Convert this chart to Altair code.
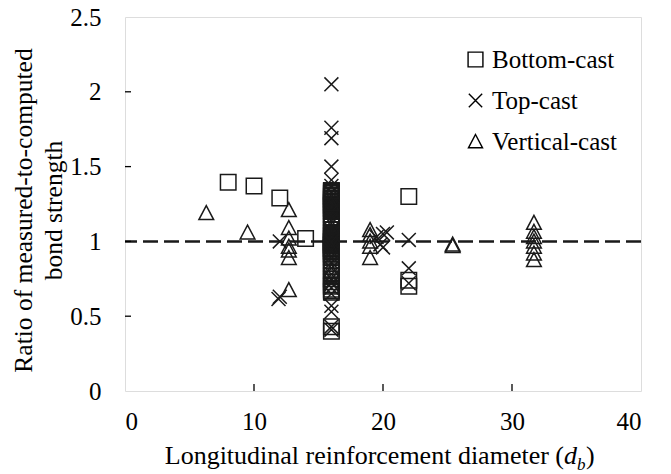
import altair as alt
import pandas as pd

FONT = "Liberation Serif, Times New Roman, serif"

# ---- data ----
sq_x = [8.0, 10.0, 12.0, 14.0, 22.0, 22.0, 22.0,
        16, 16, 16, 16, 16, 16, 16, 16, 16, 16, 16, 16, 16, 16, 16, 16, 16, 16,
        16, 16, 16, 16, 16, 16, 16, 16, 16, 16, 16, 16, 16, 16, 16, 16, 16,
        16, 16, 16, 16, 16, 16, 16, 16, 16, 16, 16, 16, 16, 16,
        16, 16, 16, 16, 16, 16, 16, 16, 16, 16, 16, 16]
sq_y = [1.395, 1.37, 1.29, 1.02, 1.30, 0.74, 0.70,
        1.34, 1.33, 1.32, 1.30, 1.29, 1.27, 1.25, 1.24, 1.22, 1.20, 1.18, 1.16, 1.14, 1.12,
        1.10, 1.08, 1.06, 1.05, 1.04, 1.03, 1.02, 1.01, 1.00, 0.99, 0.98, 0.97, 0.96, 0.95,
        0.94, 0.93, 0.92, 0.90, 0.89, 0.87, 0.85, 0.83, 0.81, 0.79, 0.77, 0.75, 0.73, 0.71,
        0.70, 0.68, 0.67, 0.66, 0.43, 0.40, 0.985,
        1.335, 1.31, 1.28, 1.26, 1.23, 1.21, 1.005, 0.995, 0.975, 0.955, 0.935, 0.915]

x_x = [12.0, 12.0, 11.9,
       16, 16, 16, 16, 16, 16, 16, 16, 16, 16, 16, 16, 16, 16, 16, 16, 16, 16, 16,
       16, 16, 16, 16, 16, 16, 16, 16, 16, 16, 16,
       19.5, 19.8, 20.0, 20.3, 20.0, 22.0, 22.0, 22.0]
x_y = [1.00, 0.63, 0.615,
       2.05, 1.76, 1.69, 1.50, 1.41, 1.37, 1.33, 1.30, 1.26, 1.23, 1.20, 1.16, 1.12, 1.07,
       1.03, 1.00, 0.97, 0.94, 0.90, 0.86, 0.82, 0.78, 0.75, 0.72, 0.69, 0.65, 0.57, 0.53,
       0.43, 0.41,
       1.03, 0.98, 1.05, 1.06, 0.96, 1.01, 0.82, 0.72]

tri_x = [6.3, 9.5, 12.7, 12.7, 12.7, 12.7, 12.7, 12.7, 12.7,
         16, 16, 16, 16, 16, 16,
         19.0, 19.0, 19.0, 19.0, 19.0, 25.4, 25.4,
         31.7, 31.7, 31.7, 31.7, 31.7, 31.7, 31.7]
tri_y = [1.19, 1.06, 1.21, 1.09, 1.02, 0.965, 0.94, 0.89, 0.675,
         1.33, 1.25, 1.10, 0.95, 0.80, 0.70,
         1.076, 1.043, 1.00, 0.965, 0.89, 0.98, 0.97,
         1.125, 1.065, 1.03, 1.00, 0.965, 0.92, 0.876]

series = ["Bottom-cast", "Top-cast", "Vertical-cast"]
x_ticks = [0, 10, 20, 30, 40]
y_ticks = [0, 0.5, 1, 1.5, 2, 2.5]
inner_x_ticks = [10, 20, 30]
inner_y_ticks = [0.5, 1, 1.5, 2]
ref_value = [1.0]

df = pd.concat([
    pd.DataFrame({"d": sq_x, "r": sq_y, "s": series[0]}),
    pd.DataFrame({"d": x_x, "r": x_y, "s": series[1]}),
    pd.DataFrame({"d": tri_x, "r": tri_y, "s": series[2]}),
], ignore_index=True)

W, H = 516, 374

xscale = alt.Scale(domain=[0, 40], nice=False, zero=False)
yscale = alt.Scale(domain=[0, 2.5], nice=False, zero=False)

X_PATH = "M-0.9,-0.9L0.9,0.9M-0.9,0.9L0.9,-0.9"
TRI_PATH = "M0,-0.95L0.95,0.85L-0.95,0.85Z"

points = alt.Chart(df).mark_point(filled=False, strokeWidth=1.5, color="#1a1a1a",
                                  opacity=1, size=240).encode(
    x=alt.X("d:Q", scale=xscale,
            axis=alt.Axis(values=x_ticks, ticks=False, domain=False, grid=False, title=None,
                          labelFont=FONT, labelFontSize=25, labelColor="black", labelPadding=18)),
    y=alt.Y("r:Q", scale=yscale,
            axis=alt.Axis(values=y_ticks, ticks=False, domain=False, grid=False, format="~g",
                          labelFont=FONT, labelFontSize=25, labelColor="black", labelPadding=24,
                          title=["Ratio of measured-to-computed", "bond strength"],
                          titleFont=FONT, titleFontSize=25.5, titleFontWeight="normal",
                          titleColor="black", titleLineHeight=30,
                          titleX=-89, titleY=193, titleAngle=270, titleBaseline="bottom",
                          titleAlign="center")),
    shape=alt.Shape("s:N", scale=alt.Scale(domain=series, range=["square", X_PATH, TRI_PATH]),
                    legend=alt.Legend(title=None, orient="none", legendX=338, legendY=30,
                                      labelFont=FONT, labelFontSize=25, labelColor="black",
                                      symbolSize=220, symbolStrokeColor="black",
                                      symbolStrokeWidth=1.4,
                                      rowPadding=15, labelOffset=4, padding=0)),
)

ref = alt.Chart(pd.DataFrame({"v": ref_value})).mark_rule(
    strokeDash=[15, 6], strokeWidth=2.5, color="#1a1a1a").encode(
    y=alt.Y("v:Q", scale=yscale))

ytk = alt.Chart(pd.DataFrame({"v": inner_y_ticks})).mark_rule(color="black", strokeWidth=1.3).encode(
    y=alt.Y("v:Q", scale=yscale), x=alt.value(0), x2=alt.value(6))

xtk = alt.Chart(pd.DataFrame({"v": inner_x_ticks})).mark_rule(color="black", strokeWidth=1.3).encode(
    x=alt.X("v:Q", scale=xscale), y=alt.value(H), y2=alt.value(H - 7))

X0 = 439
TY = 447
title_main = alt.Chart(pd.DataFrame({"t": ["Longitudinal reinforcement diameter ("]})).mark_text(
    font=FONT, fontSize=26, align="right", baseline="alphabetic", color="black").encode(
    text="t:N", x=alt.value(X0), y=alt.value(TY))
title_d = alt.Chart(pd.DataFrame({"t": ["d"]})).mark_text(
    font=FONT, fontSize=26, fontStyle="italic", align="left", baseline="alphabetic", color="black").encode(
    text="t:N", x=alt.value(X0), y=alt.value(TY))
title_b = alt.Chart(pd.DataFrame({"t": ["b"]})).mark_text(
    font=FONT, fontSize=17, fontStyle="italic", align="left", baseline="alphabetic", color="black").encode(
    text="t:N", x=alt.value(X0 + 13), y=alt.value(TY + 6))
title_close = alt.Chart(pd.DataFrame({"t": [")"]})).mark_text(
    font=FONT, fontSize=26, align="left", baseline="alphabetic", color="black").encode(
    text="t:N", x=alt.value(X0 + 22), y=alt.value(TY))

chart = alt.layer(ref, points, ytk, xtk, title_main, title_d, title_b, title_close).properties(
    width=W, height=H,
    padding={"left": 125, "top": 17, "right": 30, "bottom": 83},
    autosize=alt.AutoSizeParams(type="none"),
).configure_view(stroke="black", strokeWidth=1.5).configure(background="white")

chart.save("out.html", embed_options={"renderer": "svg", "actions": False})
